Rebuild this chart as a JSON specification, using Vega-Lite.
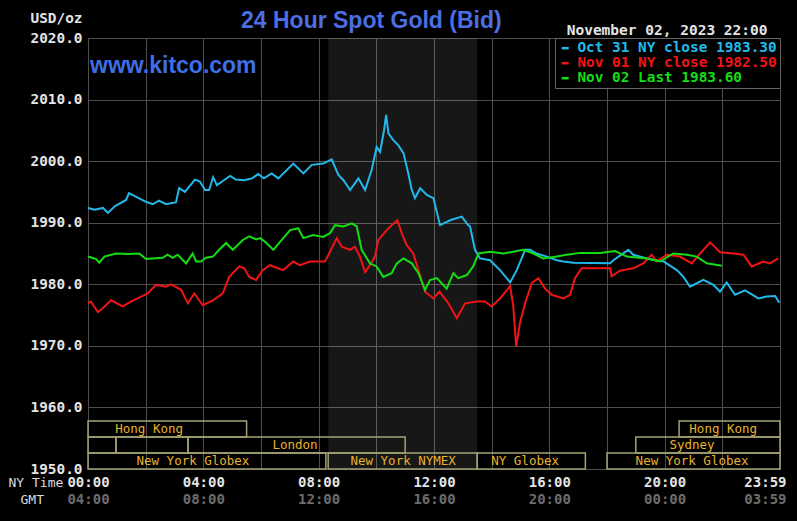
{
  "$schema": "https://vega.github.io/schema/vega-lite/v6.json",
  "width": 692,
  "height": 431,
  "autosize": "none",
  "padding": {"left": 88, "top": 38, "right": 17, "bottom": 52},
  "background": "#000000",
  "config": {
    "view": {"stroke": "#555555", "fill": "#000000"},
    "axis": {
      "domain": false, "ticks": false, "tickSize": 0,
      "gridColor": "#4e4e4e", "gridWidth": 1,
      "labelFont": "DejaVu Sans Mono", "labelFontSize": 14, "labelFontWeight": "bold", "labelColor": "#e4e4e4",
      "titleFont": "DejaVu Sans Mono", "titleFontSize": 13, "titleFontWeight": "normal", "titleColor": "#dcdcdc"
    }
  },
  "title": {
    "text": "24 Hour Spot Gold (Bid)",
    "anchor": "start", "frame": "group", "dx": 153, "offset": 0, "dy": 41,
    "baseline": "alphabetic",
    "font": "Liberation Sans", "fontSize": 23, "fontWeight": "bold", "color": "#4b6fe3"
  },
  "datasets": {
    "gold": [
      {"s":"Oct 31","t":0,"p":1992.4},{"s":"Oct 31","t":0.24,"p":1992.1},{"s":"Oct 31","t":0.52,"p":1992.4},{"s":"Oct 31","t":0.69,"p":1991.6},{"s":"Oct 31","t":0.94,"p":1992.7},{"s":"Oct 31","t":1.32,"p":1993.7},{"s":"Oct 31","t":1.42,"p":1994.8},{"s":"Oct 31","t":2.01,"p":1993.4},{"s":"Oct 31","t":2.25,"p":1993.0},{"s":"Oct 31","t":2.46,"p":1993.6},{"s":"Oct 31","t":2.71,"p":1993.0},{"s":"Oct 31","t":2.91,"p":1993.2},{"s":"Oct 31","t":3.05,"p":1993.3},{"s":"Oct 31","t":3.16,"p":1995.6},{"s":"Oct 31","t":3.36,"p":1995.0},{"s":"Oct 31","t":3.71,"p":1997.0},{"s":"Oct 31","t":3.88,"p":1996.7},{"s":"Oct 31","t":4.06,"p":1995.3},{"s":"Oct 31","t":4.2,"p":1995.3},{"s":"Oct 31","t":4.34,"p":1997.4},{"s":"Oct 31","t":4.47,"p":1996.1},{"s":"Oct 31","t":4.65,"p":1996.7},{"s":"Oct 31","t":4.93,"p":1997.6},{"s":"Oct 31","t":5.13,"p":1997.0},{"s":"Oct 31","t":5.41,"p":1996.9},{"s":"Oct 31","t":5.69,"p":1997.2},{"s":"Oct 31","t":5.9,"p":1997.9},{"s":"Oct 31","t":6.1,"p":1997.2},{"s":"Oct 31","t":6.37,"p":1998.0},{"s":"Oct 31","t":6.6,"p":1997.2},{"s":"Oct 31","t":7.12,"p":1999.6},{"s":"Oct 31","t":7.47,"p":1998.0},{"s":"Oct 31","t":7.76,"p":1999.4},{"s":"Oct 31","t":8.16,"p":1999.6},{"s":"Oct 31","t":8.45,"p":2000.3},{"s":"Oct 31","t":8.68,"p":1997.8},{"s":"Oct 31","t":8.86,"p":1996.9},{"s":"Oct 31","t":9.09,"p":1995.3},{"s":"Oct 31","t":9.38,"p":1997.2},{"s":"Oct 31","t":9.61,"p":1995.3},{"s":"Oct 31","t":9.84,"p":1998.6},{"s":"Oct 31","t":10.01,"p":2002.3},{"s":"Oct 31","t":10.13,"p":2001.5},{"s":"Oct 31","t":10.27,"p":2005.1},{"s":"Oct 31","t":10.34,"p":2007.5},{"s":"Oct 31","t":10.42,"p":2004.5},{"s":"Oct 31","t":10.59,"p":2003.4},{"s":"Oct 31","t":10.76,"p":2002.6},{"s":"Oct 31","t":10.94,"p":2001.3},{"s":"Oct 31","t":11.11,"p":1998.0},{"s":"Oct 31","t":11.23,"p":1995.3},{"s":"Oct 31","t":11.34,"p":1994.0},{"s":"Oct 31","t":11.52,"p":1995.6},{"s":"Oct 31","t":11.75,"p":1994.5},{"s":"Oct 31","t":11.98,"p":1994.0},{"s":"Oct 31","t":12.21,"p":1989.6},{"s":"Oct 31","t":12.56,"p":1990.4},{"s":"Oct 31","t":12.96,"p":1991.0},{"s":"Oct 31","t":13.19,"p":1989.6},{"s":"Oct 31","t":13.25,"p":1989.4},{"s":"Oct 31","t":13.42,"p":1985.6},{"s":"Oct 31","t":13.6,"p":1984.2},{"s":"Oct 31","t":13.94,"p":1983.9},{"s":"Oct 31","t":14.29,"p":1982.3},{"s":"Oct 31","t":14.64,"p":1980.3},{"s":"Oct 31","t":14.87,"p":1982.3},{"s":"Oct 31","t":15.16,"p":1985.6},{"s":"Oct 31","t":15.33,"p":1985.6},{"s":"Oct 31","t":15.56,"p":1985.0},{"s":"Oct 31","t":15.91,"p":1984.5},{"s":"Oct 31","t":16.26,"p":1983.9},{"s":"Oct 31","t":16.49,"p":1983.7},{"s":"Oct 31","t":16.83,"p":1983.5},{"s":"Oct 31","t":18.11,"p":1983.4},{"s":"Oct 31","t":18.22,"p":1983.9},{"s":"Oct 31","t":18.74,"p":1985.6},{"s":"Oct 31","t":18.91,"p":1984.8},{"s":"Oct 31","t":19.38,"p":1984.2},{"s":"Oct 31","t":19.96,"p":1983.7},{"s":"Oct 31","t":20.42,"p":1982.3},{"s":"Oct 31","t":20.65,"p":1981.2},{"s":"Oct 31","t":20.88,"p":1979.6},{"s":"Oct 31","t":21.34,"p":1980.7},{"s":"Oct 31","t":21.69,"p":1979.9},{"s":"Oct 31","t":21.92,"p":1978.8},{"s":"Oct 31","t":22.15,"p":1980.3},{"s":"Oct 31","t":22.44,"p":1978.3},{"s":"Oct 31","t":22.79,"p":1979.0},{"s":"Oct 31","t":23.25,"p":1977.7},{"s":"Oct 31","t":23.54,"p":1978.0},{"s":"Oct 31","t":23.83,"p":1978.1},{"s":"Oct 31","t":23.98,"p":1977.0},
      {"s":"Nov 01","t":0,"p":1976.9},{"s":"Nov 01","t":0.1,"p":1977.2},{"s":"Nov 01","t":0.34,"p":1975.5},{"s":"Nov 01","t":0.51,"p":1976.1},{"s":"Nov 01","t":0.8,"p":1977.4},{"s":"Nov 01","t":1.2,"p":1976.4},{"s":"Nov 01","t":1.49,"p":1977.2},{"s":"Nov 01","t":1.84,"p":1978.0},{"s":"Nov 01","t":2.07,"p":1978.5},{"s":"Nov 01","t":2.36,"p":1979.9},{"s":"Nov 01","t":2.71,"p":1979.6},{"s":"Nov 01","t":2.88,"p":1980.0},{"s":"Nov 01","t":3.23,"p":1979.1},{"s":"Nov 01","t":3.46,"p":1976.9},{"s":"Nov 01","t":3.69,"p":1978.5},{"s":"Nov 01","t":3.98,"p":1976.6},{"s":"Nov 01","t":4.33,"p":1977.4},{"s":"Nov 01","t":4.67,"p":1978.5},{"s":"Nov 01","t":4.9,"p":1981.2},{"s":"Nov 01","t":5.25,"p":1982.9},{"s":"Nov 01","t":5.42,"p":1982.6},{"s":"Nov 01","t":5.59,"p":1981.2},{"s":"Nov 01","t":5.83,"p":1980.7},{"s":"Nov 01","t":6.06,"p":1982.3},{"s":"Nov 01","t":6.31,"p":1983.1},{"s":"Nov 01","t":6.77,"p":1982.3},{"s":"Nov 01","t":7.12,"p":1983.7},{"s":"Nov 01","t":7.35,"p":1983.1},{"s":"Nov 01","t":7.7,"p":1983.7},{"s":"Nov 01","t":8.22,"p":1983.7},{"s":"Nov 01","t":8.45,"p":1985.8},{"s":"Nov 01","t":8.63,"p":1987.5},{"s":"Nov 01","t":8.8,"p":1986.1},{"s":"Nov 01","t":9.09,"p":1985.6},{"s":"Nov 01","t":9.26,"p":1986.1},{"s":"Nov 01","t":9.43,"p":1984.5},{"s":"Nov 01","t":9.61,"p":1982.0},{"s":"Nov 01","t":9.78,"p":1983.1},{"s":"Nov 01","t":9.95,"p":1984.5},{"s":"Nov 01","t":10.07,"p":1987.2},{"s":"Nov 01","t":10.36,"p":1988.8},{"s":"Nov 01","t":10.53,"p":1989.6},{"s":"Nov 01","t":10.73,"p":1990.4},{"s":"Nov 01","t":10.88,"p":1988.3},{"s":"Nov 01","t":11.05,"p":1986.4},{"s":"Nov 01","t":11.28,"p":1985.0},{"s":"Nov 01","t":11.46,"p":1982.3},{"s":"Nov 01","t":11.69,"p":1978.8},{"s":"Nov 01","t":11.98,"p":1977.7},{"s":"Nov 01","t":12.19,"p":1978.8},{"s":"Nov 01","t":12.5,"p":1976.9},{"s":"Nov 01","t":12.79,"p":1974.5},{"s":"Nov 01","t":13.08,"p":1976.9},{"s":"Nov 01","t":13.48,"p":1977.2},{"s":"Nov 01","t":13.77,"p":1977.2},{"s":"Nov 01","t":14.0,"p":1976.4},{"s":"Nov 01","t":14.29,"p":1977.7},{"s":"Nov 01","t":14.64,"p":1979.7},{"s":"Nov 01","t":14.75,"p":1976.4},{"s":"Nov 01","t":14.85,"p":1969.9},{"s":"Nov 01","t":14.98,"p":1973.7},{"s":"Nov 01","t":15.16,"p":1976.9},{"s":"Nov 01","t":15.39,"p":1980.2},{"s":"Nov 01","t":15.62,"p":1981.0},{"s":"Nov 01","t":15.85,"p":1979.3},{"s":"Nov 01","t":16.08,"p":1978.3},{"s":"Nov 01","t":16.49,"p":1977.7},{"s":"Nov 01","t":16.72,"p":1978.3},{"s":"Nov 01","t":16.89,"p":1981.0},{"s":"Nov 01","t":17.12,"p":1982.6},{"s":"Nov 01","t":18.11,"p":1982.6},{"s":"Nov 01","t":18.16,"p":1981.3},{"s":"Nov 01","t":18.45,"p":1982.2},{"s":"Nov 01","t":18.91,"p":1982.6},{"s":"Nov 01","t":19.26,"p":1983.4},{"s":"Nov 01","t":19.55,"p":1984.8},{"s":"Nov 01","t":19.72,"p":1983.7},{"s":"Nov 01","t":20.07,"p":1984.8},{"s":"Nov 01","t":20.53,"p":1984.5},{"s":"Nov 01","t":20.94,"p":1983.4},{"s":"Nov 01","t":21.23,"p":1985.0},{"s":"Nov 01","t":21.58,"p":1986.8},{"s":"Nov 01","t":21.92,"p":1985.2},{"s":"Nov 01","t":22.38,"p":1985.0},{"s":"Nov 01","t":22.73,"p":1984.8},{"s":"Nov 01","t":23.02,"p":1982.9},{"s":"Nov 01","t":23.42,"p":1983.7},{"s":"Nov 01","t":23.65,"p":1983.4},{"s":"Nov 01","t":23.94,"p":1984.2},
      {"s":"Nov 02","t":0,"p":1984.5},{"s":"Nov 02","t":0.28,"p":1984.1},{"s":"Nov 02","t":0.39,"p":1983.5},{"s":"Nov 02","t":0.57,"p":1984.5},{"s":"Nov 02","t":0.97,"p":1985.0},{"s":"Nov 02","t":1.43,"p":1984.9},{"s":"Nov 02","t":1.78,"p":1985.0},{"s":"Nov 02","t":2.01,"p":1984.1},{"s":"Nov 02","t":2.59,"p":1984.3},{"s":"Nov 02","t":2.76,"p":1984.8},{"s":"Nov 02","t":2.94,"p":1984.3},{"s":"Nov 02","t":3.11,"p":1984.8},{"s":"Nov 02","t":3.4,"p":1983.4},{"s":"Nov 02","t":3.63,"p":1985.0},{"s":"Nov 02","t":3.75,"p":1983.7},{"s":"Nov 02","t":3.92,"p":1983.7},{"s":"Nov 02","t":4.09,"p":1984.3},{"s":"Nov 02","t":4.33,"p":1984.5},{"s":"Nov 02","t":4.55,"p":1985.6},{"s":"Nov 02","t":4.79,"p":1986.7},{"s":"Nov 02","t":5.02,"p":1985.6},{"s":"Nov 02","t":5.37,"p":1987.2},{"s":"Nov 02","t":5.59,"p":1987.8},{"s":"Nov 02","t":5.83,"p":1987.3},{"s":"Nov 02","t":5.97,"p":1987.5},{"s":"Nov 02","t":6.14,"p":1986.9},{"s":"Nov 02","t":6.43,"p":1985.6},{"s":"Nov 02","t":6.66,"p":1986.9},{"s":"Nov 02","t":7.01,"p":1988.8},{"s":"Nov 02","t":7.29,"p":1989.1},{"s":"Nov 02","t":7.47,"p":1987.5},{"s":"Nov 02","t":7.81,"p":1988.0},{"s":"Nov 02","t":8.16,"p":1987.7},{"s":"Nov 02","t":8.39,"p":1988.3},{"s":"Nov 02","t":8.57,"p":1989.6},{"s":"Nov 02","t":8.86,"p":1989.4},{"s":"Nov 02","t":9.15,"p":1989.9},{"s":"Nov 02","t":9.32,"p":1989.4},{"s":"Nov 02","t":9.49,"p":1985.6},{"s":"Nov 02","t":9.78,"p":1983.4},{"s":"Nov 02","t":10.01,"p":1982.9},{"s":"Nov 02","t":10.24,"p":1981.2},{"s":"Nov 02","t":10.53,"p":1981.8},{"s":"Nov 02","t":10.71,"p":1983.4},{"s":"Nov 02","t":10.94,"p":1984.2},{"s":"Nov 02","t":11.23,"p":1983.4},{"s":"Nov 02","t":11.46,"p":1981.8},{"s":"Nov 02","t":11.69,"p":1979.1},{"s":"Nov 02","t":11.86,"p":1980.7},{"s":"Nov 02","t":12.1,"p":1981.0},{"s":"Nov 02","t":12.44,"p":1979.3},{"s":"Nov 02","t":12.67,"p":1981.8},{"s":"Nov 02","t":12.84,"p":1981.0},{"s":"Nov 02","t":13.14,"p":1981.5},{"s":"Nov 02","t":13.36,"p":1982.9},{"s":"Nov 02","t":13.54,"p":1985.0},{"s":"Nov 02","t":13.94,"p":1985.3},{"s":"Nov 02","t":14.41,"p":1985.0},{"s":"Nov 02","t":15.1,"p":1985.6},{"s":"Nov 02","t":15.45,"p":1985.0},{"s":"Nov 02","t":15.79,"p":1984.2},{"s":"Nov 02","t":16.26,"p":1984.5},{"s":"Nov 02","t":16.6,"p":1984.8},{"s":"Nov 02","t":17.07,"p":1985.1},{"s":"Nov 02","t":17.76,"p":1985.1},{"s":"Nov 02","t":18.28,"p":1985.4},{"s":"Nov 02","t":18.69,"p":1984.5},{"s":"Nov 02","t":19.38,"p":1984.2},{"s":"Nov 02","t":19.84,"p":1983.7},{"s":"Nov 02","t":20.3,"p":1985.0},{"s":"Nov 02","t":20.77,"p":1984.8},{"s":"Nov 02","t":21.11,"p":1984.5},{"s":"Nov 02","t":21.46,"p":1983.4},{"s":"Nov 02","t":21.98,"p":1983.0}
    ],
    "sessions": [
      {"name":"Hong Kong","start":0,"end":5.5,"lo":2,"hi":3,"lx":2.12},
      {"name":"","start":0,"end":0.97,"lo":1,"hi":2},
      {"name":"","start":0.97,"end":3.47,"lo":1,"hi":2},
      {"name":"London","start":3.47,"end":11,"lo":1,"hi":2,"lx":7.18},
      {"name":"New York Globex","start":0,"end":8.25,"lo":0,"hi":1,"lx":3.64},
      {"name":"New York NYMEX","start":8.33,"end":13.5,"lo":0,"hi":1,"lx":10.93},
      {"name":"NY Globex","start":13.5,"end":17.25,"lo":0,"hi":1,"lx":15.16},
      {"name":"New York Globex","start":18,"end":24,"lo":0,"hi":1,"lx":20.95},
      {"name":"Sydney","start":19,"end":24,"lo":1,"hi":2,"lx":20.95},
      {"name":"Hong Kong","start":20.5,"end":24,"lo":2,"hi":3,"lx":22.03}
    ]
  },
  "layer": [
    {
      "data": {"values": [{"start": 8.333, "end": 13.5}]},
      "mark": {"type": "rect", "fill": "#ffffff", "opacity": 0.09},
      "encoding": {
        "x": {"field": "start", "type": "quantitative", "scale": {"domain": [0, 24], "nice": false, "zero": false},
              "axis": {"orient": "top", "labels": false, "grid": false, "title": "November 02, 2023 22:00",
                       "titleX": 679, "titleY": -8, "titleAlign": "right", "titleBaseline": "middle", "titleAngle": 0,
                       "titleFontWeight": "bold", "titleFontSize": 14.5, "titleColor": "#e4e4e4"}},
        "x2": {"field": "end"}
      }
    },
    {
      "data": {"name": "gold"},
      "mark": {"type": "line", "strokeWidth": 2},
      "encoding": {
        "x": {"field": "t", "type": "quantitative", "scale": {"domain": [0, 24], "nice": false, "zero": false},
              "axis": {"orient": "bottom", "values": [0,2,4,6,8,10,12,14,16,18,20,22,24], "grid": true,
                       "labelExpr": "['00:00','','04:00','','08:00','','12:00','','16:00','','20:00','','23:59'][round(datum.value/2)]",
                       "labelAlign": {"condition": {"test": "datum.value >= 24", "value": "right"}, "value": "center"},
                       "labelOffset": {"condition": {"test": "datum.value >= 24", "value": 6}, "value": 0},
                       "labelBaseline": "middle", "labelPadding": 13, "labelFontSize": 14,
                       "title": "NY Time", "titleX": -80, "titleY": 13, "titleAlign": "left", "titleBaseline": "middle"}},
        "y": {"field": "p", "type": "quantitative", "scale": {"domain": [1950, 2020], "nice": false, "zero": false},
              "axis": {"values": [1950,1960,1970,1980,1990,2000,2010,2020], "format": ".1f", "grid": true,
                       "labelPadding": 6, "labelFontSize": 14.4, "labelBaseline": "middle",
                       "title": "USD/oz", "titleAngle": 0, "titleX": -6, "titleY": -20, "titleAlign": "right", "titleBaseline": "middle",
                       "titleFontWeight": "bold", "titleFontSize": 14.4, "titleColor": "#e4e4e4"}},
        "color": {"field": "s", "type": "nominal",
                  "scale": {"domain": ["Oct 31", "Nov 01", "Nov 02"], "range": ["#22b9ea", "#f01414", "#14dd14"]},
                  "legend": {"title": null, "orient": "top-right", "offset": 0, "padding": 3,
                             "fillColor": "#000000", "strokeColor": "#666666",
                             "symbolType": "stroke", "symbolSize": 50, "symbolStrokeWidth": 2.5,
                             "labelFont": "DejaVu Sans Mono", "labelFontSize": 14.4, "labelFontWeight": "bold",
                             "labelOffset": 5, "rowPadding": 0, "labelLimit": 300,
                             "labelExpr": "datum.label == 'Oct 31' ? 'Oct 31 NY close 1983.30' : datum.label == 'Nov 01' ? 'Nov 01 NY close 1982.50' : 'Nov 02 Last 1983.60'",
                             "encode": {"labels": {"update": {"fill": {"signal": "scale('color', datum.value)"}}}}}}
      }
    },
    {
      "data": {"values": [{"text": "www.kitco.com"}]},
      "mark": {"type": "text", "align": "left", "baseline": "middle", "dx": 2,
               "font": "Liberation Sans", "fontSize": 23, "fontWeight": "bold", "fill": "#3f6fe6"},
      "encoding": {
        "x": {"datum": 0, "type": "quantitative", "axis": null},
        "y": {"datum": 2015.45, "type": "quantitative", "scale": {"domain": [1950, 2020], "nice": false, "zero": false}, "axis": null},
        "text": {"field": "text"}
      }
    },
    {
      "data": {"name": "sessions"},
      "mark": {"type": "rect", "fill": "transparent", "stroke": "#a3a273", "strokeWidth": 1.5},
      "encoding": {
        "x": {"field": "start", "type": "quantitative", "scale": {"domain": [0, 24], "nice": false, "zero": false},
              "axis": {"orient": "bottom", "values": [0,2,4,6,8,10,12,14,16,18,20,22,24], "grid": false,
                       "labelExpr": "['04:00','','08:00','','12:00','','16:00','','20:00','','00:00','','03:59'][round(datum.value/2)]",
                       "labelAlign": {"condition": {"test": "datum.value >= 24", "value": "right"}, "value": "center"},
                       "labelOffset": {"condition": {"test": "datum.value >= 24", "value": 6}, "value": 0},
                       "labelBaseline": "middle", "labelPadding": 30, "labelFontSize": 14, "labelColor": "#6c6c6c",
                       "title": "GMT", "titleX": -68, "titleY": 30, "titleAlign": "left", "titleBaseline": "middle"}},
        "x2": {"field": "end"},
        "y": {"field": "lo", "type": "quantitative", "scale": {"domain": [0, 27], "nice": false, "zero": false}, "axis": null},
        "y2": {"field": "hi"}
      }
    },
    {
      "data": {"name": "sessions"},
      "mark": {"type": "text", "align": "center", "baseline": "middle", "dy": -8,
               "font": "DejaVu Sans Mono", "fontSize": 12.5, "fill": "#e6b22c"},
      "encoding": {
        "x": {"field": "lx", "type": "quantitative", "axis": null},
        "y": {"field": "lo", "type": "quantitative", "scale": {"domain": [0, 27], "nice": false, "zero": false}, "axis": null},
        "text": {"field": "name"}
      }
    }
  ],
  "resolve": {"scale": {"y": "independent"}, "axis": {"x": "independent", "y": "independent"}}
}
